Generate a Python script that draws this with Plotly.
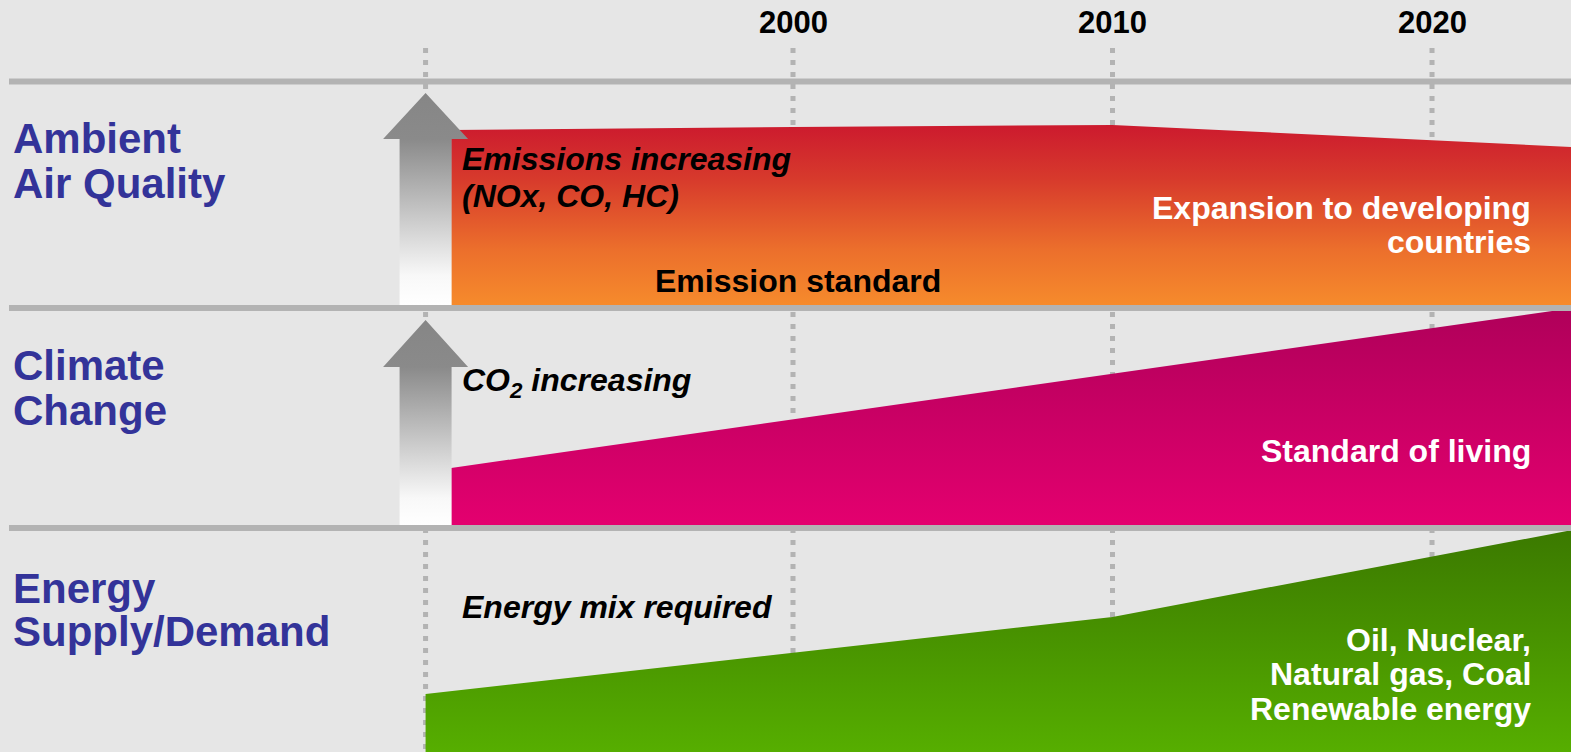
import plotly.graph_objects as go

# ---------------- data ----------------
grid_years = [1988.5, 2000, 2010, 2020]
year_ticks = [2000, 2010, 2020]
year_labels = ["2000", "2010", "2020"]

band_titles = [["Ambient", "Air Quality"], ["Climate", "Change"], ["Energy", "Supply/Demand"]]

air_years = [1989.3, 2000, 2010, 2024.41]
air_top = [130, 127, 125, 147]
air_floor = 305

climate_years = [1989.3, 2023.76, 2024.41]
climate_top = [468, 311, 311]
climate_floor = 526

energy_years = [1988.5, 2010, 2024.41]
energy_top = [694, 617, 530]
energy_floor = 752

separator_levels = [81.5, 308, 528]
arrow_tips = [93, 320]
arrow_necks = [139, 367]
arrow_bases = [305, 527]

# ---------------- layout helpers ----------------
W, H = 1571, 752
X0, X1 = 1975.18, 2024.35
def px(x):
    return X0 + x / W * (X1 - X0)

FONT = "Liberation Sans, Arial, sans-serif"
GRAY = "#b3b3b3"
BLUE = "#333399"

fig = go.Figure()

# dotted year guides
for gy in grid_years:
    fig.add_trace(go.Scatter(x=[gy, gy], y=[48, 752], mode="lines",
                             line=dict(color=GRAY, width=5, dash="5px,7px"),
                             hoverinfo="skip", showlegend=False))

def area(xs, tops, floor, cs):
    xx = list(xs) + [xs[-1], xs[0], xs[0]]
    yy = list(tops) + [floor, floor, tops[0]]
    fig.add_trace(go.Scatter(x=xx, y=yy, mode="lines", fill="toself",
                             line=dict(width=0), hoverinfo="skip", showlegend=False,
                             fillgradient=dict(type="vertical", colorscale=cs,
                                               start=min(tops), stop=floor)))

area(air_years, air_top, air_floor,
     [[0, "#cc1a2e"], [0.3, "#d73a2c"], [0.7, "#ec702c"], [1, "#f68b2c"]])
area(climate_years, climate_top, climate_floor,
     [[0, "#b0005a"], [1, "#e4006f"]])
area(energy_years, energy_top, energy_floor,
     [[0, "#3b7900"], [1, "#56ae00"]])

# gray arrows
c = grid_years[0]
hw = 26 / W * (X1 - X0)
HW = 42.5 / W * (X1 - X0)
for tip, neck, base in zip(arrow_tips, arrow_necks, arrow_bases):
    xs = [c - hw, c - hw, c - HW, c, c + HW, c + hw, c + hw, c - hw]
    ys = [base, neck, neck, tip, neck, neck, base, base]
    f = (neck - tip) / (base - tip)
    fig.add_trace(go.Scatter(x=xs, y=ys, mode="lines", fill="toself",
                             line=dict(width=0), hoverinfo="skip", showlegend=False,
                             fillgradient=dict(type="vertical", start=tip, stop=base,
                                               colorscale=[[0, "#868686"], [f, "#8a8a8a"],
                                                           [0.86, "#f8f8f8"], [1, "#ffffff"]])))

# separators
for lv in separator_levels:
    fig.add_trace(go.Scatter(x=[px(9), X1], y=[lv, lv], mode="lines",
                             line=dict(color=GRAY, width=6),
                             hoverinfo="skip", showlegend=False))

ann = []
# year labels
for yv, lab in zip(year_ticks, year_labels):
    ann.append(dict(x=yv, y=22.5, xref="x", yref="y", text="<b>%s</b>" % lab,
                    showarrow=False, xanchor="center", yanchor="middle",
                    font=dict(family=FONT, size=31, color="#000000")))

# band titles
title_y = [[138.5, 183], [365, 410], [588, 631]]
for lines, ys in zip(band_titles, title_y):
    for t, yy in zip(lines, ys):
        ann.append(dict(x=px(11), y=yy, xref="x", yref="y", text="<b>%s</b>" % t,
                        showarrow=False, xanchor="left", yanchor="middle",
                        font=dict(family=FONT, size=42, color=BLUE)))

def txt(x, y, s, anchor="left", color="#000000", italic=True):
    body = "<b><i>%s</i></b>" % s if italic else "<b>%s</b>" % s
    ann.append(dict(x=px(x), y=y, xref="x", yref="y", text=body, showarrow=False,
                    xanchor=anchor, yanchor="middle",
                    font=dict(family=FONT, size=32, color=color)))

txt(460, 159, "Emissions increasing")
txt(460, 196, "(NOx, CO, HC)")
txt(460, 382, "CO<sub>2</sub> increasing")
txt(460, 607, "Energy mix required")
txt(653, 281, "Emission standard", italic=False)

for yy, s in [(208, "Expansion to developing"), (242, "countries"),
              (451, "Standard of living"),
              (640, "Oil, Nuclear,"), (674, "Natural gas, Coal"), (709, "Renewable energy")]:
    txt(1533, yy, s, anchor="right", color="#ffffff", italic=False)

fig.update_layout(
    width=W, height=H, margin=dict(l=0, r=0, t=0, b=0),
    paper_bgcolor="#e6e6e6", plot_bgcolor="#e6e6e6",
    xaxis=dict(range=[X0, X1], visible=False, fixedrange=True),
    yaxis=dict(range=[H, 0], visible=False, fixedrange=True),
    annotations=ann, showlegend=False,
)
fig.write_html("out.html", config={"displayModeBar": False},
               post_script="document.body.style.margin='0';document.body.style.overflow='hidden';")
